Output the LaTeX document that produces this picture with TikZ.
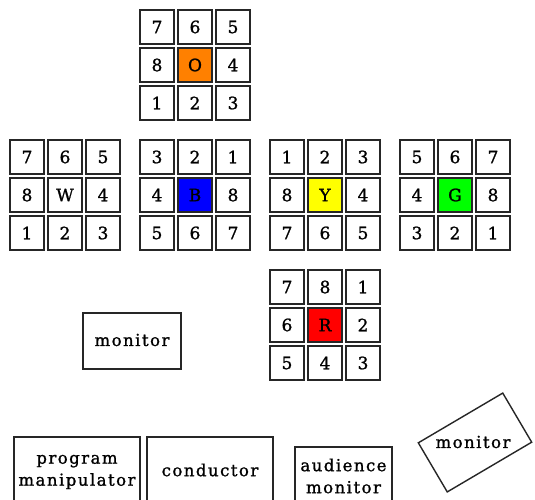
\documentclass[tikz,border=0pt]{standalone}
\usepackage{fontspec}
\setmainfont{DejaVu Serif}[LetterSpace=9, FakeBold=1.2]
\definecolor{cellline}{gray}{0.15}
\definecolor{corange}{RGB}{255,128,0}
\definecolor{cblue}{RGB}{0,0,255}
\definecolor{cyellow}{RGB}{255,255,0}
\definecolor{cgreen}{RGB}{0,255,0}
\definecolor{cred}{RGB}{255,0,0}
\tikzset{
  cell/.style={draw=cellline, line width=2pt, minimum size=34pt, inner sep=0pt, outer sep=0pt,
    font=\fontsize{17}{20}\selectfont},
  box/.style={draw=cellline, line width=2pt},
  lbl/.style={font=\fontsize{16.5}{22}\selectfont, align=center, inner sep=0pt}
}
\newcommand\cubeface[5]{%
  \foreach \lab [count=\k from 0] in {#4} {
    \pgfmathtruncatemacro\cc{mod(\k,3)}
    \pgfmathtruncatemacro\rr{div(\k,3)}
    \ifnum\k=4 \def\fc{#5}\else\def\fc{white}\fi
    \node[cell, fill=\fc] (#1-\k) at (#2+18+38*\cc, #3+18+38*\rr) {\lab};
  }%
}
\begin{document}
\begin{tikzpicture}[x=1pt, y=-1pt]
\useasboundingbox (0,0) rectangle (535,500);
\clip (0,0) rectangle (535,500);
\fill[white] (0,0) rectangle (535,500);
\cubeface{O}{139}{9}{7,6,5,8,O,4,1,2,3}{corange}
\cubeface{W}{9}{139}{7,6,5,8,W,4,1,2,3}{white}
\cubeface{B}{139}{139}{3,2,1,4,B,8,5,6,7}{cblue}
\cubeface{Y}{269}{139}{1,2,3,8,Y,4,7,6,5}{cyellow}
\cubeface{G}{399}{139}{5,6,7,4,G,8,3,2,1}{cgreen}
\cubeface{R}{269}{269}{7,8,1,6,R,2,5,4,3}{cred}
% monitor
\draw[box] (83,313) rectangle (181,369);
\node[lbl] (mon1) at (132,340) {monitor};
% bottom boxes
\draw[box] (14,437) rectangle (140,520);
\node[lbl] (pm) at (77,472) {program\\manipulator};
\draw[box] (147,437) rectangle (273,520);
\node[lbl] (cond) at (210,470) {conductor};
\draw[box] (295,447) rectangle (392,520);
\node[lbl] (aud) at (343.5,476) {audience\\monitor};
% rotated monitor
\node[draw=cellline, line width=1.4pt, minimum width=98pt, minimum height=57pt, rotate=30.5, inner sep=0pt] (mon2box) at (475,442.5) {};
\node[lbl] (mon2) at (473,442) {monitor};
\end{tikzpicture}
\end{document}
